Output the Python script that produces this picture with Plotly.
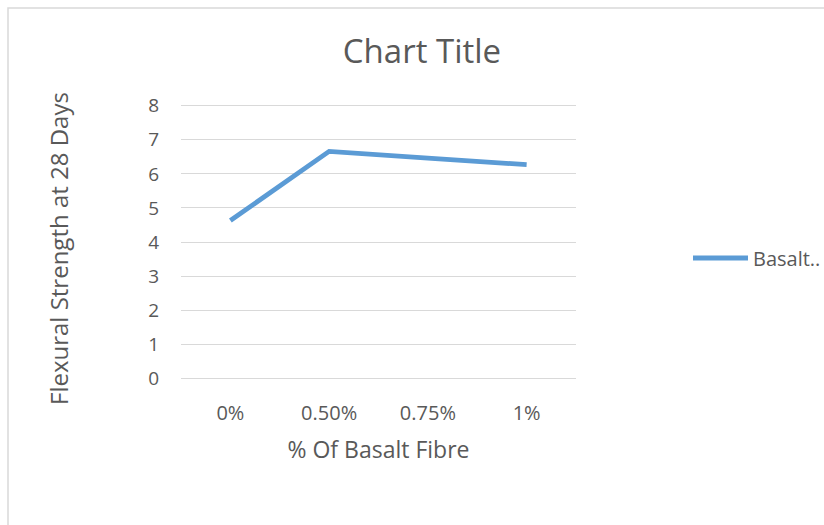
import plotly.graph_objects as go

categories = ["0%", "0.50%", "0.75%", "1%"]
flexural_strength = [4.63, 6.66, 6.46, 6.27]
series_name = "Basalt.."
y_ticks = [0, 1, 2, 3, 4, 5, 6, 7, 8]

FONT = "Open Sans"
TXT = "#595959"
GRID = "#d9d9d9"

fig = go.Figure()
fig.add_trace(go.Scatter(
    x=categories, y=flexural_strength, mode="lines", name=series_name,
    line=dict(color="#5B9BD5", width=4.8),
))

L, R, T, B = 181, 248, 104, 145
W, H = 824, 525
pw, ph = W - L - R, H - T - B

def px_to_paper_x(px):
    return (px - L) / pw

def px_to_paper_y(py):
    return (H - B - py) / ph

fig.update_layout(
    width=W, height=H,
    margin=dict(l=L, r=R, t=T, b=B, autoexpand=False),
    paper_bgcolor="white", plot_bgcolor="white",
    font=dict(family=FONT, color=TXT, size=20),
    title=dict(text="Chart Title", x=422 / W, xanchor="center",
               y=1 - 51 / H, yanchor="middle",
               font=dict(family=FONT, size=33, color=TXT)),
    showlegend=True,
    legend=dict(x=px_to_paper_x(688), xanchor="left",
                y=px_to_paper_y(258), yanchor="middle",
                itemwidth=55,
                font=dict(family=FONT, size=20, color=TXT),
                bgcolor="rgba(0,0,0,0)"),
    xaxis=dict(
        type="category", range=[-0.5, 3.5],
        showgrid=False, zeroline=False, showline=False, ticks="",
        tickfont=dict(family=FONT, size=20, color=TXT),
        ticklabelstandoff=19,
        title=dict(text="% Of Basalt Fibre", standoff=16,
                   font=dict(family=FONT, size=23, color=TXT)),
    ),
    yaxis=dict(
        range=[-0.05, 8.05], tickvals=y_ticks,
        showgrid=True, gridcolor=GRID, gridwidth=1.3,
        zeroline=False, showline=False, ticks="",
        tickfont=dict(family=FONT, size=19, color=TXT),
        ticklabelstandoff=21,
    ),
    annotations=[dict(
        text="Flexural Strength at 28 Days", textangle=-90,
        xref="paper", yref="paper",
        x=px_to_paper_x(58), y=px_to_paper_y(249),
        xanchor="center", yanchor="middle", showarrow=False,
        font=dict(family=FONT, size=24, color=TXT),
    )],
    shapes=[dict(
        type="rect", xref="paper", yref="paper",
        x0=px_to_paper_x(8), x1=px_to_paper_x(840),
        y0=px_to_paper_y(540), y1=px_to_paper_y(8),
        line=dict(color="#d9d9d9", width=1.5), fillcolor="rgba(0,0,0,0)",
        layer="below",
    )],
)

fig.write_html("out.html", config={"displayModeBar": False},
               post_script="document.body.style.margin='0';")
